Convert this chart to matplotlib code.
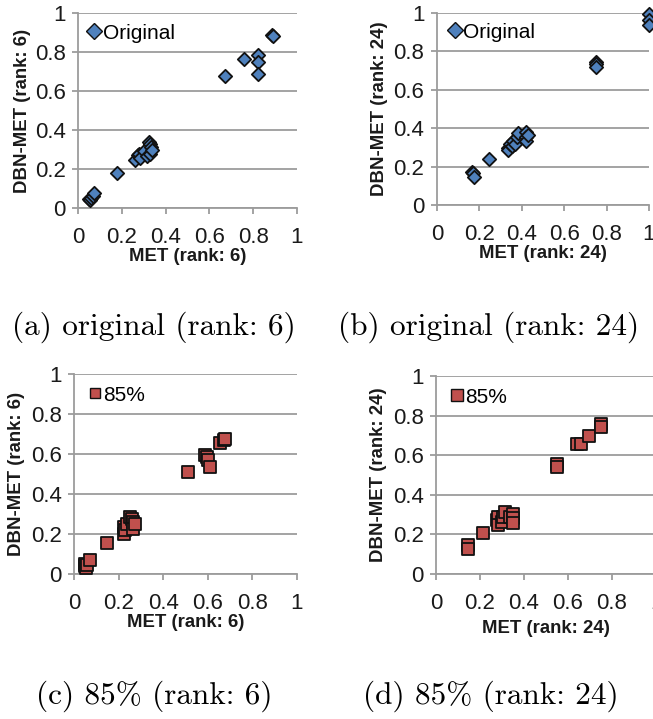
import matplotlib
matplotlib.use("Agg")
import matplotlib.pyplot as plt
from matplotlib.lines import Line2D

# ---- data: MET score vs DBN-MET score ----
a_x = [0.05, 0.055, 0.06, 0.07, 0.072, 0.178, 0.259, 0.274, 0.28, 0.285, 0.30, 0.315,
       0.322, 0.327, 0.327, 0.333, 0.338, 0.671, 0.76, 0.82, 0.82, 0.82, 0.885, 0.89]
a_y = [0.045, 0.04, 0.05, 0.06, 0.075, 0.179, 0.244, 0.27, 0.275, 0.258, 0.29, 0.265,
       0.338, 0.33, 0.275, 0.313, 0.30, 0.675, 0.764, 0.783, 0.747, 0.689, 0.885, 0.88]

b_x = [0.163, 0.171, 0.176, 0.243, 0.336, 0.336, 0.344, 0.352, 0.36, 0.367, 0.375, 0.383,
       0.422, 0.422, 0.422, 0.43, 0.752, 0.752, 0.752, 1.0, 1.0, 1.0]
b_y = [0.17, 0.165, 0.147, 0.237, 0.295, 0.286, 0.32, 0.305, 0.334, 0.317, 0.355, 0.373,
       0.381, 0.355, 0.334, 0.364, 0.745, 0.736, 0.72, 0.997, 0.965, 0.936]

c_x = [0.05, 0.05, 0.055, 0.06, 0.07, 0.15, 0.222, 0.222, 0.229, 0.237, 0.251, 0.259,
       0.266, 0.266, 0.274, 0.51, 0.588, 0.596, 0.603, 0.608, 0.656, 0.673, 0.678]
c_y = [0.05, 0.04, 0.03, 0.045, 0.07, 0.155, 0.235, 0.202, 0.219, 0.252, 0.285, 0.277,
       0.26, 0.227, 0.252, 0.508, 0.594, 0.586, 0.569, 0.533, 0.656, 0.668, 0.676]

d_x = [0.147, 0.147, 0.212, 0.276, 0.283, 0.283, 0.298, 0.306, 0.314, 0.336, 0.348, 0.348,
       0.352, 0.552, 0.552, 0.639, 0.658, 0.697, 0.748, 0.748]
d_y = [0.148, 0.126, 0.206, 0.273, 0.29, 0.245, 0.265, 0.29, 0.315, 0.29, 0.304, 0.282,
       0.257, 0.555, 0.542, 0.656, 0.656, 0.696, 0.76, 0.743]

ticks = [0, 0.2, 0.4, 0.6, 0.8, 1]
tick_labels = ["0", "0.2", "0.4", "0.6", "0.8", "1"]

panels = [
    dict(x=a_x, y=a_y, rank="6", series="Original", marker="D", color="#4F81BD", ms=6.8,
         rect=[78, 13, 297, 208], caption="(a) original (rank: 6)", cap=(154, 335),
         leg=(-0.03, 1.02), xl=-0.205, yl=-0.215),
    dict(x=b_x, y=b_y, rank="24", series="Original", marker="D", color="#4F81BD", ms=6.8,
         rect=[437, 13, 649, 205], caption="(b) original (rank: 24)", cap=(489, 335),
         leg=(-0.025, 1.025), xl=-0.21, yl=-0.23),
    dict(x=c_x, y=c_y, rank="6", series="85%", marker="s", color="#C0504D", ms=8.0,
         rect=[74, 374, 297, 574], caption="(c) 85% (rank: 6)", cap=(154.5, 704),
         leg=(-0.01, 1.015), xl=-0.2, yl=-0.22),
    dict(x=d_x, y=d_y, rank="24", series="85%", marker="s", color="#C0504D", ms=8.4,
         rect=[436, 376, 656, 574], caption="(d) 85% (rank: 24)", cap=(491, 704),
         leg=(-0.01, 1.015), xl=-0.23, yl=-0.223),
]

W, H = 653, 719
fig = plt.figure(figsize=(W / 100, H / 100), dpi=100)
grid_c = "#9C9C9C"
sans = "Liberation Sans"

for p in panels:
    l, t, r, b = p["rect"]
    ax = fig.add_axes([l / W, 1 - b / H, (r - l) / W, (b - t) / H])
    ax.set_xlim(0, 1)
    ax.set_ylim(0, 1)
    ax.scatter(p["x"], p["y"], marker=p["marker"], s=p["ms"] ** 2, c=p["color"],
               edgecolors="#111111", linewidths=1.3, zorder=3, clip_on=False)
    ax.set_xticks(ticks)
    ax.set_yticks(ticks)
    ax.set_xticklabels(tick_labels)
    ax.set_yticklabels(tick_labels)
    ax.yaxis.grid(True, color=grid_c, lw=1.3)
    ax.set_axisbelow(True)
    for s in ("top", "right"):
        ax.spines[s].set_visible(False)
    for s in ("left", "bottom"):
        ax.spines[s].set_color(grid_c)
        ax.spines[s].set_linewidth(1.3)
    ax.tick_params(axis="both", direction="out", length=4, width=1.3, color=grid_c,
                   labelsize=16, labelcolor="#1a1a1a")
    ax.tick_params(axis="x", pad=10)
    ax.tick_params(axis="y", pad=5)
    for lab in ax.get_xticklabels() + ax.get_yticklabels():
        lab.set_fontfamily(sans)
    ax.set_xlabel(f"MET (rank: {p['rank']})", fontsize=13.4, fontweight="bold",
                  family=sans, color="#1a1a1a")
    ax.set_ylabel(f"DBN-MET (rank: {p['rank']})", fontsize=13.4, fontweight="bold",
                  family=sans, color="#1a1a1a")
    ax.xaxis.set_label_coords(0.5, p["xl"])
    ax.yaxis.set_label_coords(p["yl"], 0.5)
    hs = p["ms"] * (0.95 if p["marker"] == "s" else 1.15)
    handle = Line2D([], [], ls="none", marker=p["marker"], markersize=hs,
                    markerfacecolor=p["color"], markeredgecolor="#111111", markeredgewidth=1.0)
    ax.legend([handle], [p["series"]], loc="upper left", bbox_to_anchor=p["leg"],
              frameon=False, handlelength=0.8, handletextpad=0.0, borderpad=0.2,
              prop={"family": sans, "size": 15})
    fig.text(p["cap"][0] / W, 1 - p["cap"][1] / H, p["caption"], family="cmr10",
             fontsize=22.5, ha="center", va="baseline", color="black")

fig.savefig("out.png", dpi=100)
